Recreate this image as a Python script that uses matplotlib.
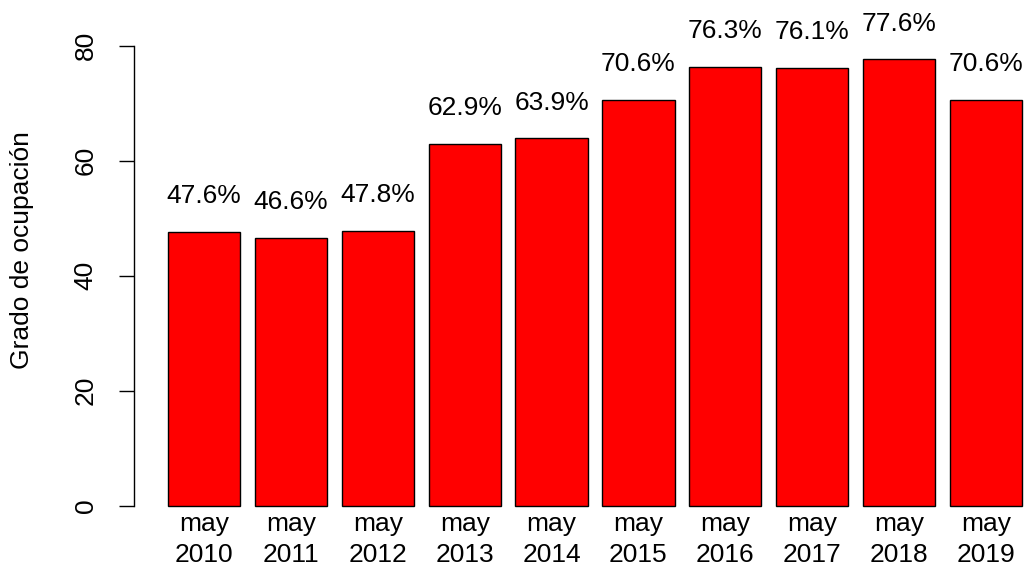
import matplotlib
matplotlib.use("Agg")
import matplotlib.pyplot as plt
import numpy as np

plt.rcParams['font.family'] = ['Liberation Sans', 'DejaVu Sans']

years = ["2010", "2011", "2012", "2013", "2014", "2015", "2016", "2017", "2018", "2019"]
month = "may"
occupancy = [47.6, 46.6, 47.8, 62.9, 63.9, 70.6, 76.3, 76.1, 77.6, 70.6]
yticks = [0, 20, 40, 60, 80]

fig = plt.figure(figsize=(10.25, 5.69), dpi=100)
ax = fig.add_axes([133.8 / 1025, 0.0801, (1056.2 - 133.8) / 1025, 0.927 - 0.0801])

# R barplot layout: width 1, space 0.2
x = 0.7 + 1.2 * np.arange(len(occupancy))
ax.bar(x, occupancy, width=1.0, color='#FF0000', edgecolor='black', linewidth=1.0)

ax.set_xlim(-0.272, 12.472)
ax.set_ylim(-3.104, 80.704)

for s in ['top', 'right', 'bottom']:
    ax.spines[s].set_visible(False)
ax.spines['left'].set_bounds(0, 80)
ax.spines['left'].set_linewidth(1.0)
ax.set_yticks(yticks)
ax.set_yticklabels([str(v) for v in yticks], rotation=90, va='center', fontsize=19)
ax.tick_params(axis='y', length=11, width=1.0, pad=15, colors='black')
ax.set_xticks([])

for xi, v, yr in zip(x, occupancy, years):
    ax.text(xi, v + 6.2, f"{v:.1f}%", ha='center', va='center', fontsize=19, clip_on=False)
    ax.text(xi, -1.2, f"{month}\n{yr}", ha='center', va='top', fontsize=19,
            linespacing=1.32, clip_on=False)

fig.text(22 / 1025, 1 - 250 / 569, "Grado de ocupación", rotation=90,
         ha='center', va='center', fontsize=19)

fig.savefig("out.png", dpi=100)
